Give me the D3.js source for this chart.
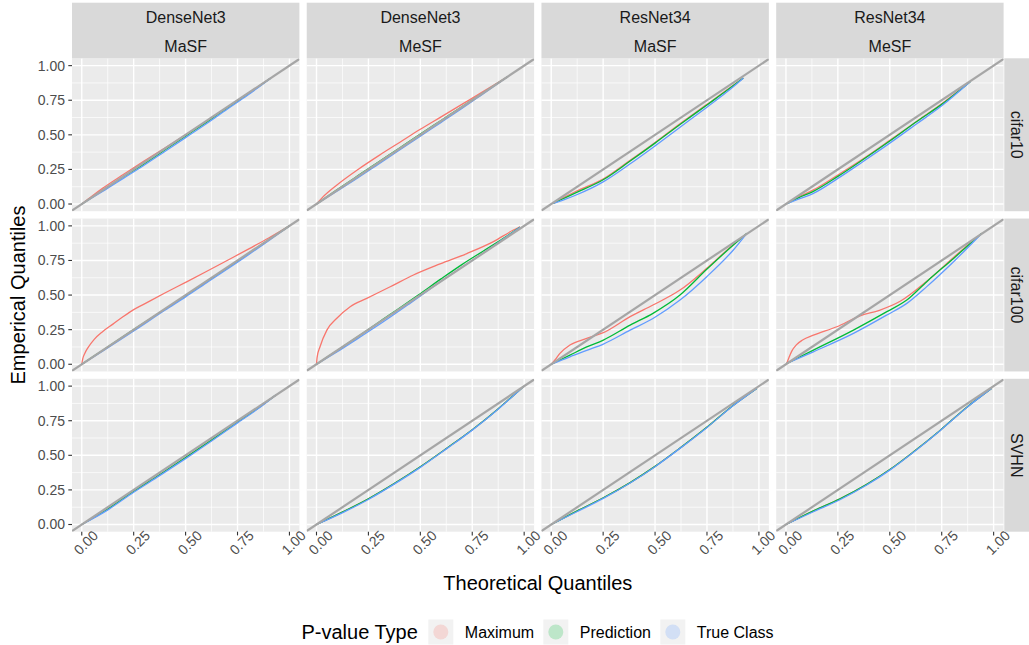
<!DOCTYPE html>
<html><head><meta charset="utf-8">
<script src="https://cdn.jsdelivr.net/npm/d3@7"></script>
<style>body{margin:0;background:#fff;} svg{display:block;font-family:Arial,"Liberation Sans",sans-serif;}</style>
</head><body><svg id="c" width="1029" height="645"></svg>
<script>
// ---------- data ----------
const models   = ["DenseNet3","DenseNet3","ResNet34","ResNet34"];
const methods  = ["MaSF","MeSF","MaSF","MeSF"];
const datasets = ["cifar10","cifar100","SVHN"];
const seriesNames = ["Maximum","Prediction","True Class"];
const seriesColors = ["#F8766D","#00BA38","#619CFF"];
const xTickVals = [0,0.25,0.5,0.75,1];
const yTickVals = [0,0.25,0.5,0.75,1];
const xLabel = "Theoretical Quantiles";
const yLabel = "Emperical Quantiles";
const legendTitle = "P-value Type";

// [theoretical, empirical] pairs — row cifar10
const d_masf_c10_max  = [[0,0],[0.05,0.058],[0.1,0.113],[0.2,0.213],[0.3,0.31],[0.4,0.405],[0.5,0.5],[0.6,0.598],[0.7,0.698],[0.8,0.798],[0.91,0.91]];
const d_masf_c10_pred = [[0,0],[0.1,0.098],[0.2,0.195],[0.3,0.29],[0.4,0.39],[0.5,0.49],[0.6,0.59],[0.7,0.693],[0.8,0.795],[0.91,0.91]];
const d_masf_c10_true = [[0,0],[0.1,0.09],[0.2,0.185],[0.3,0.28],[0.4,0.38],[0.5,0.48],[0.6,0.58],[0.7,0.685],[0.8,0.788],[0.91,0.91]];
const d_mesf_c10_max  = [[0,0],[0.03,0.05],[0.1,0.14],[0.2,0.25],[0.3,0.35],[0.4,0.445],[0.5,0.54],[0.6,0.63],[0.7,0.72],[0.8,0.81],[0.92,0.92]];
const d_mesf_c10_pred = [[0,0],[0.1,0.104],[0.2,0.205],[0.3,0.305],[0.4,0.405],[0.5,0.505],[0.6,0.604],[0.7,0.703],[0.8,0.8],[0.92,0.92]];
const d_mesf_c10_true = [[0,0],[0.1,0.094],[0.2,0.19],[0.3,0.29],[0.4,0.39],[0.5,0.49],[0.6,0.59],[0.7,0.69],[0.8,0.794],[0.92,0.92]];
const r_masf_c10_max  = [[0.01,0.005],[0.06,0.046],[0.12,0.092],[0.25,0.18],[0.375,0.31],[0.5,0.445],[0.625,0.585],[0.75,0.72],[0.85,0.83],[0.925,0.91]];
const r_masf_c10_pred = [[0.01,0.005],[0.06,0.04],[0.12,0.082],[0.25,0.175],[0.375,0.305],[0.5,0.44],[0.625,0.58],[0.75,0.716],[0.85,0.825],[0.925,0.91]];
const r_masf_c10_true = [[0.01,0.005],[0.06,0.03],[0.12,0.065],[0.25,0.16],[0.375,0.285],[0.5,0.42],[0.625,0.56],[0.75,0.70],[0.85,0.815],[0.925,0.91]];
const r_mesf_c10_max  = [[0.005,0.003],[0.06,0.05],[0.13,0.1],[0.25,0.21],[0.37,0.325],[0.5,0.46],[0.63,0.598],[0.75,0.725],[0.887,0.884]];
const r_mesf_c10_pred = [[0.005,0.003],[0.06,0.045],[0.13,0.09],[0.25,0.2],[0.37,0.32],[0.5,0.455],[0.63,0.596],[0.75,0.72],[0.887,0.884]];
const r_mesf_c10_true = [[0.005,0.003],[0.06,0.035],[0.13,0.075],[0.25,0.185],[0.37,0.306],[0.5,0.44],[0.63,0.58],[0.75,0.71],[0.887,0.884]];
// row cifar100
const d_masf_c100_max  = [[0,0],[0.005,0.04],[0.015,0.08],[0.03,0.12],[0.06,0.18],[0.1,0.235],[0.15,0.29],[0.2,0.345],[0.25,0.395],[0.3,0.435],[0.4,0.515],[0.5,0.592],[0.6,0.67],[0.7,0.75],[0.8,0.83],[0.9,0.912],[1,1]];
const d_masf_c100_pred = [[0,0],[0.1,0.1],[0.25,0.25],[0.4,0.398],[0.5,0.496],[0.6,0.597],[0.75,0.746],[0.9,0.9],[1,1]];
const d_masf_c100_true = [[0,0],[0.1,0.094],[0.25,0.24],[0.4,0.39],[0.5,0.487],[0.6,0.588],[0.75,0.737],[0.9,0.893],[1,1]];
const d_mesf_c100_max  = [[0,0],[0.003,0.05],[0.017,0.127],[0.05,0.247],[0.098,0.332],[0.162,0.416],[0.242,0.476],[0.355,0.56],[0.467,0.645],[0.595,0.725],[0.724,0.8],[0.852,0.886],[0.948,0.97],[0.98,0.994]];
const d_mesf_c100_pred = [[0,0],[0.1,0.1],[0.2,0.2],[0.35,0.355],[0.49,0.5],[0.6,0.617],[0.7,0.72],[0.8,0.815],[0.9,0.91],[0.98,0.99]];
const d_mesf_c100_true = [[0,0],[0.1,0.09],[0.2,0.187],[0.32,0.305],[0.45,0.44],[0.6,0.6],[0.8,0.8],[0.98,0.99]];
const r_masf_c100_max  = [[0,0],[0.02,0.035],[0.042,0.079],[0.09,0.139],[0.171,0.187],[0.251,0.228],[0.38,0.344],[0.49,0.428],[0.62,0.536],[0.749,0.693],[0.877,0.866],[0.942,0.946]];
const r_masf_c100_pred = [[0,0],[0.09,0.066],[0.171,0.125],[0.251,0.175],[0.38,0.283],[0.49,0.368],[0.62,0.5],[0.749,0.686],[0.877,0.862],[0.942,0.946]];
const r_masf_c100_true = [[0,0],[0.09,0.054],[0.171,0.1],[0.251,0.146],[0.38,0.247],[0.49,0.331],[0.62,0.464],[0.749,0.633],[0.877,0.826],[0.942,0.946]];
const r_mesf_c100_max  = [[0.004,0.006],[0.015,0.05],[0.028,0.095],[0.05,0.14],[0.08,0.175],[0.132,0.21],[0.245,0.271],[0.357,0.35],[0.45,0.39],[0.55,0.455],[0.678,0.6],[0.807,0.772],[0.943,0.946]];
const r_mesf_c100_pred = [[0.004,0.006],[0.132,0.102],[0.325,0.247],[0.486,0.38],[0.582,0.464],[0.678,0.597],[0.807,0.765],[0.943,0.946]];
const r_mesf_c100_true = [[0.004,0.006],[0.132,0.09],[0.325,0.223],[0.486,0.356],[0.582,0.44],[0.678,0.561],[0.807,0.741],[0.943,0.946]];
// row SVHN
const d_masf_svhn_max  = [[0,0],[0.124,0.11],[0.25,0.24],[0.375,0.36],[0.5,0.483],[0.625,0.61],[0.745,0.735],[0.85,0.843],[0.934,0.935]];
const d_masf_svhn_pred = [[0,0],[0.124,0.11],[0.25,0.24],[0.375,0.36],[0.5,0.483],[0.625,0.61],[0.745,0.735],[0.85,0.843],[0.934,0.935]];
const d_masf_svhn_true = [[0,0],[0.124,0.104],[0.25,0.233],[0.375,0.353],[0.5,0.476],[0.625,0.603],[0.745,0.729],[0.85,0.838],[0.934,0.935]];
const d_mesf_svhn_max  = [[0,0],[0.129,0.093],[0.25,0.186],[0.37,0.292],[0.5,0.417],[0.629,0.553],[0.75,0.685],[0.87,0.83],[0.94,0.922],[1,1]];
const d_mesf_svhn_pred = [[0,0],[0.129,0.093],[0.25,0.186],[0.37,0.292],[0.5,0.417],[0.629,0.553],[0.75,0.685],[0.87,0.83],[0.94,0.922],[1,1]];
const d_mesf_svhn_true = [[0,0],[0.129,0.088],[0.25,0.181],[0.37,0.288],[0.5,0.413],[0.629,0.55],[0.75,0.682],[0.87,0.827],[0.94,0.92],[1,1]];
const r_masf_svhn_max  = [[0,0],[0.123,0.097],[0.251,0.193],[0.38,0.303],[0.5,0.42],[0.62,0.552],[0.749,0.702],[0.877,0.862],[0.99,0.984]];
const r_masf_svhn_pred = [[0,0],[0.123,0.097],[0.251,0.193],[0.38,0.303],[0.5,0.42],[0.62,0.552],[0.749,0.702],[0.877,0.862],[0.99,0.984]];
const r_masf_svhn_true = [[0,0],[0.123,0.092],[0.251,0.189],[0.38,0.3],[0.5,0.418],[0.62,0.55],[0.749,0.70],[0.877,0.86],[0.99,0.984]];
const r_mesf_svhn_max  = [[0,0],[0.132,0.098],[0.26,0.185],[0.389,0.29],[0.5,0.397],[0.613,0.524],[0.742,0.68],[0.871,0.848],[0.99,0.984]];
const r_mesf_svhn_pred = [[0,0],[0.132,0.098],[0.26,0.185],[0.389,0.29],[0.5,0.397],[0.613,0.524],[0.742,0.68],[0.871,0.848],[0.99,0.984]];
const r_mesf_svhn_true = [[0,0],[0.132,0.092],[0.26,0.179],[0.389,0.285],[0.5,0.393],[0.613,0.521],[0.742,0.678],[0.871,0.846],[0.99,0.984]];

// panels[row][col] = [Maximum, Prediction, True Class]
const panels = [
  [[d_masf_c10_max,d_masf_c10_pred,d_masf_c10_true],[d_mesf_c10_max,d_mesf_c10_pred,d_mesf_c10_true],
   [r_masf_c10_max,r_masf_c10_pred,r_masf_c10_true],[r_mesf_c10_max,r_mesf_c10_pred,r_mesf_c10_true]],
  [[d_masf_c100_max,d_masf_c100_pred,d_masf_c100_true],[d_mesf_c100_max,d_mesf_c100_pred,d_mesf_c100_true],
   [r_masf_c100_max,r_masf_c100_pred,r_masf_c100_true],[r_mesf_c100_max,r_mesf_c100_pred,r_mesf_c100_true]],
  [[d_masf_svhn_max,d_masf_svhn_pred,d_masf_svhn_true],[d_mesf_svhn_max,d_mesf_svhn_pred,d_mesf_svhn_true],
   [r_masf_svhn_max,r_masf_svhn_pred,r_masf_svhn_true],[r_mesf_svhn_max,r_mesf_svhn_pred,r_mesf_svhn_true]]
];

// ---------- layout ----------
const svg = d3.select("#c");
const L = 72, R = 1003.6, T = 58.3, B = 531.7, gap = 7.33;
const pw = (R - L - 3*gap)/4, ph = (B - T - 2*gap)/3;
const xDomain = [-0.047, 1.048], yDomain = [-0.052, 1.053];
const x = d3.scaleLinear().domain(xDomain).range([0, pw]);
const y = d3.scaleLinear().domain(yDomain).range([ph, 0]);
const minor = [0.125,0.375,0.625,0.875];
const line = d3.line().x(d=>x(d[0])).y(d=>y(d[1])).curve(d3.curveMonotoneX);

const defs = svg.append("defs");
defs.append("clipPath").attr("id","pclip").append("rect").attr("width",pw).attr("height",ph);

for (let r=0;r<3;r++){
  for (let c=0;c<4;c++){
    const gx = L + c*(pw+gap), gy = T + r*(ph+gap);
    const g = svg.append("g").attr("transform",`translate(${gx},${gy})`);
    g.append("rect").attr("width",pw).attr("height",ph).attr("fill","#EBEBEB");
    const grid = g.append("g");
    minor.forEach(v=>{
      grid.append("line").attr("x1",x(v)).attr("x2",x(v)).attr("y1",0).attr("y2",ph).attr("stroke","#fff").attr("stroke-width",0.7);
      grid.append("line").attr("y1",y(v)).attr("y2",y(v)).attr("x1",0).attr("x2",pw).attr("stroke","#fff").attr("stroke-width",0.7);
    });
    xTickVals.forEach(v=>{
      grid.append("line").attr("x1",x(v)).attr("x2",x(v)).attr("y1",0).attr("y2",ph).attr("stroke","#fff").attr("stroke-width",1.4);
    });
    yTickVals.forEach(v=>{
      grid.append("line").attr("y1",y(v)).attr("y2",y(v)).attr("x1",0).attr("x2",pw).attr("stroke","#fff").attr("stroke-width",1.4);
    });
    const plot = g.append("g").attr("clip-path","url(#pclip)");
    panels[r][c].forEach((s,i)=>{
      plot.append("path").datum(s).attr("d",line).attr("fill","none")
        .attr("stroke",seriesColors[i]).attr("stroke-width",1.3);
    });
    plot.append("line").attr("x1",x(xDomain[0])).attr("y1",y(xDomain[0]))
      .attr("x2",x(xDomain[1])).attr("y2",y(xDomain[1]))
      .attr("stroke","#A6A6A6").attr("stroke-width",2.2);

    // x axis (bottom row only)
    if (r===2){
      const ax = g.append("g").attr("transform",`translate(0,${ph})`);
      xTickVals.forEach(v=>{
        ax.append("line").attr("x1",x(v)).attr("x2",x(v)).attr("y1",0).attr("y2",3.7).attr("stroke","#333").attr("stroke-width",1.1);
        ax.append("text").attr("transform",`translate(${x(v)},${6.6}) rotate(-45)`)
          .attr("text-anchor","middle").attr("dy","0.78em").attr("font-size",14).attr("fill","#4D4D4D")
          .text(d3.format(".2f")(v));
      });
    }
    // y axis (first col only)
    if (c===0){
      yTickVals.forEach(v=>{
        g.append("line").attr("x1",-3.7).attr("x2",0).attr("y1",y(v)).attr("y2",y(v)).attr("stroke","#333").attr("stroke-width",1.1);
        g.append("text").attr("x",-7).attr("y",y(v)).attr("dy","0.35em").attr("text-anchor","end")
          .attr("font-size",14).attr("fill","#4D4D4D").text(d3.format(".2f")(v));
      });
    }
    // top strips
    if (r===0){
      const st = svg.append("g").attr("transform",`translate(${gx},2.7)`);
      st.append("rect").attr("width",pw).attr("height",T-2.7).attr("fill","#D9D9D9");
      st.append("text").attr("x",pw/2).attr("y",14.8).attr("dy","0.35em").attr("text-anchor","middle").attr("font-size",16).attr("fill","#1A1A1A").text(models[c]);
      st.append("text").attr("x",pw/2).attr("y",43.3).attr("dy","0.35em").attr("text-anchor","middle").attr("font-size",16).attr("fill","#1A1A1A").text(methods[c]);
    }
    // right strips
    if (c===3){
      const sx = R + 0.7;
      svg.append("rect").attr("x",sx).attr("y",gy).attr("width",1029-sx+1).attr("height",ph).attr("fill","#D9D9D9");
      svg.append("text").attr("transform",`translate(${sx+12.3},${gy+ph/2}) rotate(90)`).attr("dy","0.35em")
        .attr("text-anchor","middle").attr("font-size",16).attr("fill","#1A1A1A").text(datasets[r]);
    }
  }
}

// axis titles
svg.append("text").attr("x",(L+R)/2).attr("y",583).attr("dy","0.35em").attr("text-anchor","middle").attr("font-size",20).attr("fill","#000").text(xLabel);
svg.append("text").attr("transform",`translate(18,${(T+B)/2}) rotate(-90)`).attr("dy","0.35em").attr("text-anchor","middle").attr("font-size",20).attr("fill","#000").text(yLabel);

// legend
const lg = svg.append("g").attr("transform","translate(0,632)");
lg.append("text").attr("x",301.5).attr("y",0).attr("dy","0.35em").attr("font-size",20).attr("fill","#000").text(legendTitle);
const keyX = [428.3, 543.3, 660.3];
seriesNames.forEach((n,i)=>{
  lg.append("rect").attr("x",keyX[i]).attr("y",-12.5).attr("width",25).attr("height",25).attr("fill","#F2F2F2");
  lg.append("circle").attr("cx",keyX[i]+12.5).attr("cy",0).attr("r",7.5).attr("fill",seriesColors[i]).attr("fill-opacity",0.22);
  lg.append("text").attr("x",keyX[i]+36.5).attr("y",0).attr("dy","0.35em").attr("font-size",16).attr("fill","#000").text(n);
});
</script></body></html>
